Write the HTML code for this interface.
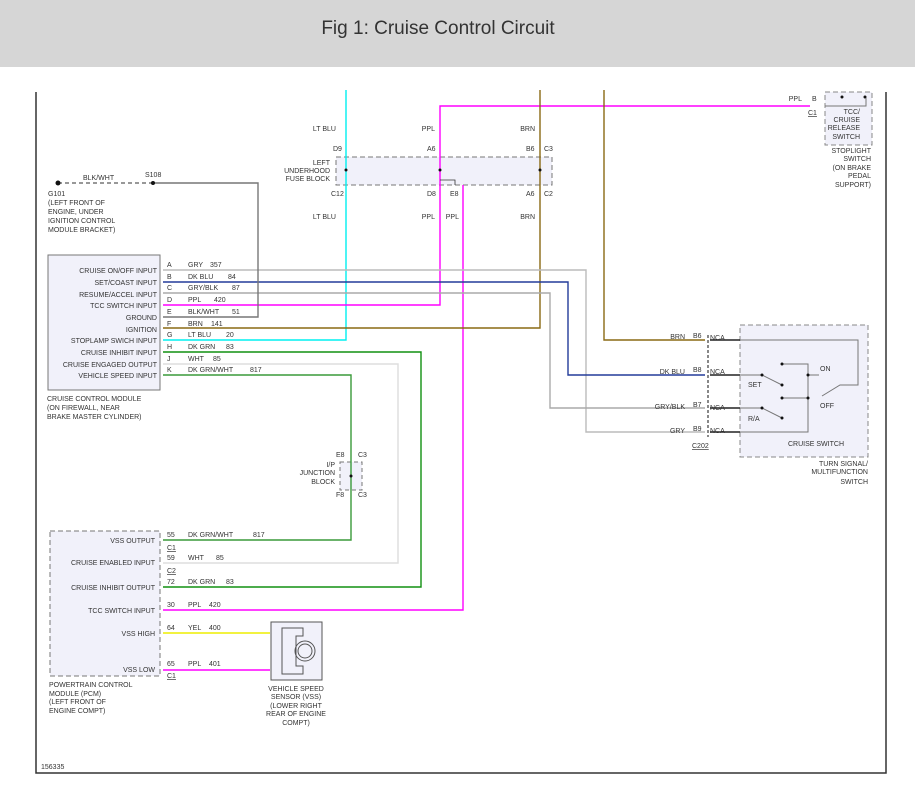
<!DOCTYPE html>
<html><head><meta charset="utf-8"><style>
html,body{margin:0;padding:0;background:#fff;}
svg{display:block;}
text{font-family:"Liberation Sans",sans-serif;font-size:7px;fill:#333;}
.r{text-anchor:end}
.m{text-anchor:middle}
</style></head><body>
<svg width="915" height="804" viewBox="0 0 915 804" xmlns="http://www.w3.org/2000/svg">
<rect x="0" y="0" width="915" height="67" fill="#d6d6d6"/>
<text x="438" y="34" class="m" style="font-size:19px;fill:#333">Fig 1: Cruise Control Circuit</text>
<!-- frame -->
<path d="M36 92 V773 H886 V92" fill="none" stroke="#333" stroke-width="1.5"/>

<!-- boxes -->
<rect x="48" y="255" width="112" height="135" fill="#f1f1fa" stroke="#777"/>
<rect x="50" y="531" width="110" height="145" fill="#f1f1fa" stroke="#777" stroke-dasharray="5,3"/>
<rect x="336" y="157" width="216" height="28" fill="#f1f1fa" stroke="#777" stroke-dasharray="5,3"/>
<rect x="740" y="325" width="128" height="132" fill="#f1f1fa" stroke="#888" stroke-dasharray="5,3"/>
<rect x="825" y="92" width="47" height="53" fill="#f1f1fa" stroke="#888" stroke-dasharray="5,3"/>
<rect x="340" y="462" width="22" height="28" fill="#f1f1fa" stroke="#777" stroke-dasharray="4,3"/>
<rect x="271" y="622" width="51" height="58" fill="#f1f1fa" stroke="#555"/>

<!-- wires -->
<g fill="none" stroke-width="1.4">
<path d="M346 90 V340 H163" stroke="#00f0f0"/>
<path d="M810 106 H440 V305 H163" stroke="#f0f"/>
<path d="M463 185 V610 H163" stroke="#f0f"/>
<path d="M540 90 V328 H163" stroke="#8a6a14"/>
<path d="M604 90 V340 H705" stroke="#8a6a14"/>
<path d="M163 270 H586 V432 H705" stroke="#bbb"/>
<path d="M163 282 H568 V375 H705" stroke="#233c9a"/>
<path d="M163 293 H550 V408 H705" stroke="#aaa"/>
<path d="M163 317 H258 V183 H153" stroke="#777"/>
<path d="M153 183 H60" stroke="#777" stroke-dasharray="4,3"/>
<path d="M163 352 H421 V587 H163" stroke="#109010"/>
<path d="M163 364 H398 V563 H163" stroke="#ddd"/>
<path d="M163 375 H351 V540 H163" stroke="#3a9a3a"/>
<path d="M163 633 H270" stroke="#ee0"/>
<path d="M163 670 H270" stroke="#f0f"/>
<path d="M440 180 H455 V185" stroke="#333" stroke-width="0.8"/>
<path d="M710 340 H740 M710 375 H740 M710 408 H740 M710 432 H740" stroke="#222"/>
</g>
<circle cx="153" cy="183" r="2" fill="#111"/>
<circle cx="58" cy="183" r="2.5" fill="#111"/>
<circle cx="346" cy="170" r="1.5" fill="#111"/>
<circle cx="440" cy="170" r="1.5" fill="#111"/>
<circle cx="540" cy="170" r="1.5" fill="#111"/>
<circle cx="351" cy="476" r="1.5" fill="#111"/>
<path d="M708 335 V437" stroke="#111" stroke-dasharray="3,2" fill="none"/>

<!-- cruise switch internals -->
<g stroke="#777" fill="none" stroke-width="1">
<path d="M740 340 H858 V385 H840 L822 396"/>
<path d="M740 375 H762 L782 385"/>
<path d="M740 408 H762 L782 418"/>
<path d="M740 432 H808 V364 H782"/>
<path d="M782 398 H808"/>
<path d="M808 375 H819"/>
</g>
<g fill="#111">
<circle cx="762" cy="375" r="1.5"/><circle cx="782" cy="385" r="1.5"/><circle cx="782" cy="364" r="1.5"/>
<circle cx="808" cy="375" r="1.5"/><circle cx="782" cy="398" r="1.5"/><circle cx="808" cy="398" r="1.5"/>
<circle cx="762" cy="408" r="1.5"/><circle cx="782" cy="418" r="1.5"/>
<circle cx="842" cy="97" r="1.5"/><circle cx="865" cy="97" r="1.5"/>
</g>
<path d="M825 106 H866 V98" stroke="#777" fill="none"/>
<text x="748" y="387">SET</text><text x="748" y="421">R/A</text>
<text x="820" y="371">ON</text><text x="820" y="408">OFF</text>
<text x="816" y="446" class="m">CRUISE SWITCH</text>
<text x="710" y="340">NCA</text><text x="710" y="374">NCA</text><text x="710" y="410">NCA</text><text x="710" y="433">NCA</text>
<text x="685" y="339" class="r">BRN</text><text x="685" y="374" class="r">DK BLU</text><text x="685" y="409" class="r">GRY/BLK</text><text x="685" y="433" class="r">GRY</text>
<text x="693" y="338">B6</text><text x="693" y="372">B8</text><text x="693" y="407">B7</text><text x="693" y="431">B9</text>
<text x="692" y="448" style="text-decoration:underline">C202</text>
<text x="868" y="466" class="r">TURN SIGNAL/</text><text x="868" y="474" class="r">MULTIFUNCTION</text><text x="868" y="484" class="r">SWITCH</text>

<!-- stoplight -->
<text x="802" y="101" class="r">PPL</text><text x="812" y="101">B</text>
<text x="808" y="115" style="text-decoration:underline">C1</text>
<text x="860" y="114" class="r">TCC/</text><text x="860" y="122" class="r">CRUISE</text><text x="860" y="130" class="r">RELEASE</text><text x="860" y="139" class="r">SWITCH</text>
<text x="871" y="153" class="r">STOPLIGHT</text><text x="871" y="161" class="r">SWITCH</text><text x="871" y="170" class="r">(ON BRAKE</text><text x="871" y="178" class="r">PEDAL</text><text x="871" y="187" class="r">SUPPORT)</text>

<!-- fuse block labels -->
<text x="336" y="131" class="r">LT BLU</text><text x="435" y="131" class="r">PPL</text><text x="535" y="131" class="r">BRN</text>
<text x="333" y="151">D9</text><text x="427" y="151">A6</text><text x="526" y="151">B6</text><text x="544" y="151">C3</text>
<text x="330" y="165" class="r">LEFT</text><text x="330" y="173" class="r">UNDERHOOD</text><text x="330" y="181" class="r">FUSE BLOCK</text>
<text x="331" y="196">C12</text><text x="427" y="196">D8</text><text x="450" y="196">E8</text><text x="526" y="196">A6</text><text x="544" y="196">C2</text>
<text x="336" y="219" class="r">LT BLU</text><text x="435" y="219" class="r">PPL</text><text x="459" y="219" class="r">PPL</text><text x="535" y="219" class="r">BRN</text>

<!-- ground -->
<text x="83" y="180">BLK/WHT</text><text x="145" y="177">S108</text>
<text x="48" y="196">G101</text><text x="48" y="205">(LEFT FRONT OF</text><text x="48" y="214">ENGINE, UNDER</text><text x="48" y="223">IGNITION CONTROL</text><text x="48" y="232">MODULE BRACKET)</text>

<!-- CCM -->
<g class="r">
<text x="157" y="273" class="r">CRUISE ON/OFF INPUT</text>
<text x="157" y="285" class="r">SET/COAST INPUT</text>
<text x="157" y="297" class="r">RESUME/ACCEL INPUT</text>
<text x="157" y="308" class="r">TCC SWITCH INPUT</text>
<text x="157" y="320" class="r">GROUND</text>
<text x="157" y="332" class="r">IGNITION</text>
<text x="157" y="343" class="r">STOPLAMP SWICH INPUT</text>
<text x="157" y="355" class="r">CRUISE INHIBIT INPUT</text>
<text x="157" y="367" class="r">CRUISE ENGAGED OUTPUT</text>
<text x="157" y="378" class="r">VEHICLE SPEED INPUT</text>
</g>
<text x="167" y="267">A</text><text x="188" y="267">GRY</text><text x="210" y="267">357</text>
<text x="167" y="279">B</text><text x="188" y="279">DK BLU</text><text x="228" y="279">84</text>
<text x="167" y="290">C</text><text x="188" y="290">GRY/BLK</text><text x="232" y="290">87</text>
<text x="167" y="302">D</text><text x="188" y="302">PPL</text><text x="214" y="302">420</text>
<text x="167" y="314">E</text><text x="188" y="314">BLK/WHT</text><text x="232" y="314">51</text>
<text x="167" y="326">F</text><text x="188" y="326">BRN</text><text x="211" y="326">141</text>
<text x="167" y="337">G</text><text x="188" y="337">LT BLU</text><text x="226" y="337">20</text>
<text x="167" y="349">H</text><text x="188" y="349">DK GRN</text><text x="226" y="349">83</text>
<text x="167" y="361">J</text><text x="188" y="361">WHT</text><text x="213" y="361">85</text>
<text x="167" y="372">K</text><text x="188" y="372">DK GRN/WHT</text><text x="250" y="372">817</text>
<text x="47" y="401">CRUISE CONTROL MODULE</text><text x="47" y="410">(ON FIREWALL, NEAR</text><text x="47" y="419">BRAKE MASTER CYLINDER)</text>

<!-- junction -->
<text x="336" y="457">E8</text><text x="358" y="457">C3</text>
<text x="335" y="467" class="r">I/P</text><text x="335" y="475" class="r">JUNCTION</text><text x="335" y="484" class="r">BLOCK</text>
<text x="336" y="497">F8</text><text x="358" y="497">C3</text>

<!-- PCM -->
<text x="155" y="543" class="r">VSS OUTPUT</text>
<text x="155" y="565" class="r">CRUISE ENABLED INPUT</text>
<text x="155" y="590" class="r">CRUISE INHIBIT OUTPUT</text>
<text x="155" y="613" class="r">TCC SWITCH INPUT</text>
<text x="155" y="636" class="r">VSS HIGH</text>
<text x="155" y="672" class="r">VSS LOW</text>
<text x="167" y="537">55</text><text x="188" y="537">DK GRN/WHT</text><text x="253" y="537">817</text>
<text x="167" y="550" style="text-decoration:underline">C1</text>
<text x="167" y="560">59</text><text x="188" y="560">WHT</text><text x="216" y="560">85</text>
<text x="167" y="573" style="text-decoration:underline">C2</text>
<text x="167" y="584">72</text><text x="188" y="584">DK GRN</text><text x="226" y="584">83</text>
<text x="167" y="607">30</text><text x="188" y="607">PPL</text><text x="209" y="607">420</text>
<text x="167" y="630">64</text><text x="188" y="630">YEL</text><text x="209" y="630">400</text>
<text x="167" y="666">65</text><text x="188" y="666">PPL</text><text x="209" y="666">401</text>
<text x="167" y="678" style="text-decoration:underline">C1</text>
<text x="49" y="687">POWERTRAIN CONTROL</text><text x="49" y="696">MODULE (PCM)</text><text x="49" y="704">(LEFT FRONT OF</text><text x="49" y="713">ENGINE COMPT)</text>

<!-- VSS sensor -->
<path d="M282 628 H303 V636 H296 V666 H303 V674 H282 Z" fill="none" stroke="#555"/>
<circle cx="305" cy="651" r="10" fill="none" stroke="#555"/>
<circle cx="305" cy="651" r="7" fill="none" stroke="#555"/>
<text x="296" y="691" class="m">VEHICLE SPEED</text><text x="296" y="699" class="m">SENSOR (VSS)</text><text x="296" y="708" class="m">(LOWER RIGHT</text><text x="296" y="716" class="m">REAR OF ENGINE</text><text x="296" y="725" class="m">COMPT)</text>
<text x="41" y="769">156335</text>
</svg>
</body></html>
